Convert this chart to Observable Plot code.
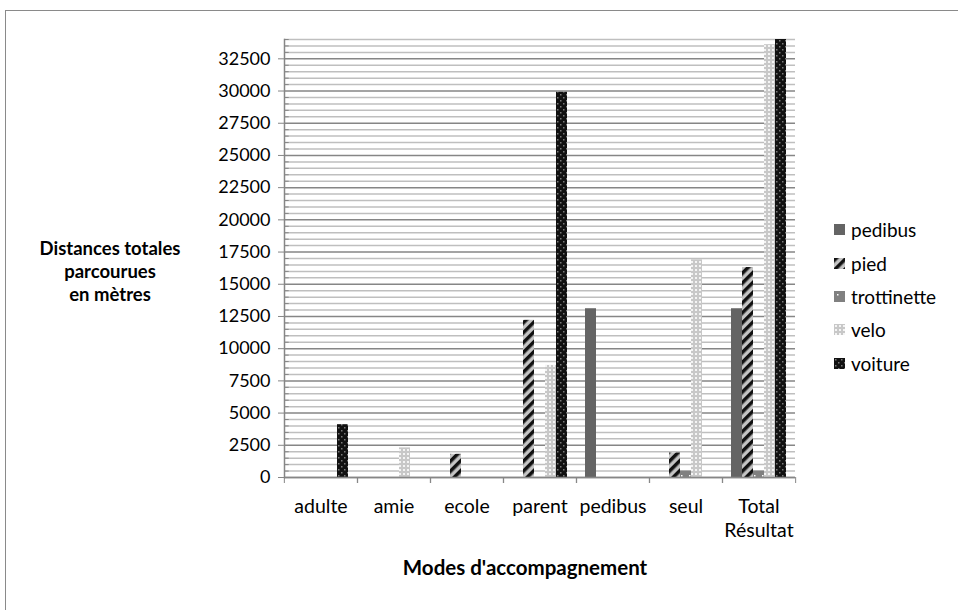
<!DOCTYPE html>
<html><head><meta charset="utf-8">
<script src="https://cdn.jsdelivr.net/npm/d3@7"></script>
<script src="https://cdn.jsdelivr.net/npm/@observablehq/plot@0.6"></script>
<style>
html,body{margin:0;padding:0;background:#fff;}
#wrap{position:relative;width:958px;height:610px;overflow:hidden;font-family:Lato,"Open Sans",sans-serif;}
#border{position:absolute;left:5px;top:10px;width:980px;height:640px;border:1.5px solid #8a8a8a;box-sizing:border-box;}
#chart{position:absolute;left:0;top:0;}
#ytitle{position:absolute;left:0px;width:220px;top:237px;text-align:center;font-weight:bold;font-size:18.5px;line-height:23px;color:#000;}
#xtitle{position:absolute;left:275px;width:500px;top:555px;text-align:center;font-weight:bold;font-size:20.5px;color:#000;}
#legend{position:absolute;left:834px;top:213px;}
.item{height:33.4px;display:flex;align-items:center;font-size:19px;}
.item svg{margin-right:6px;}
</style></head>
<body>
<svg width="0" height="0" style="position:absolute">
 <defs>
  <pattern id="p-pedibus" patternUnits="userSpaceOnUse" width="4" height="4">
   <rect width="4" height="4" fill="#646464"/>
  </pattern>
  <pattern id="p-pied" patternUnits="userSpaceOnUse" width="7" height="7" patternTransform="rotate(45)">
   <rect width="7" height="7" fill="#c4c4c4"/>
   <rect width="3.5" height="7" fill="#111"/>
  </pattern>
  <pattern id="p-trottinette" patternUnits="userSpaceOnUse" width="8" height="8">
   <rect width="8" height="8" fill="#808080"/>
   <rect x="3" y="3" width="1.5" height="1.5" fill="#ffffff"/>
  </pattern>
  <pattern id="p-velo" patternUnits="userSpaceOnUse" width="4" height="4">
   <rect width="4" height="4" fill="#c8c8c8"/>
   <rect x="1" y="1" width="2" height="2" fill="#f4f4f4"/>
  </pattern>
  <pattern id="p-voiture" patternUnits="userSpaceOnUse" width="6" height="6">
   <rect width="6" height="6" fill="#111111"/>
   <rect x="1" y="1" width="1.5" height="1.5" fill="#7a7a7a"/>
   <rect x="4" y="4" width="1.5" height="1.5" fill="#7a7a7a"/>
  </pattern>
 </defs>
</svg>
<div id="wrap">
 <div id="border"></div>
 <div id="chart"></div>
 <div id="ytitle">Distances totales<br>parcourues<br>en mètres</div>
 <div id="xtitle">Modes d'accompagnement</div>
 <div id="legend"></div>
</div>
<script>
const categories = ["adulte", "amie", "ecole", "parent", "pedibus", "seul", "Total Résultat"];
const series = ["pedibus", "pied", "trottinette", "velo", "voiture"];
const pedibus     = [0, 0, 0, 0, 13100, 0, 13100];
const pied        = [0, 0, 1800, 12200, 0, 1900, 16300];
const trottinette = [0, 0, 0, 0, 0, 500, 500];
const velo        = [0, 2300, 0, 8700, 0, 16900, 33600];
const voiture     = [4100, 0, 0, 29900, 0, 0, 34000];
const yTicks = [0, 2500, 5000, 7500, 10000, 12500, 15000, 17500, 20000, 22500, 25000, 27500, 30000, 32500];
const yMax = 34000;
const minorStep = 500;

const values = {pedibus, pied, trottinette, velo, voiture};
const data = [];
categories.forEach((c, i) => series.forEach(s => {
  if (values[s][i] > 0) data.push({cat: c, series: s, value: values[s][i]});
}));
const minor = d3.range(0, yMax + 1, minorStep).filter(v => v % 2500 !== 0);

const W = 958, H = 610, mL = 283, mR = 162, mT = 39, mB = 133;
const band = (W - mL - mR) / categories.length;

const chart = Plot.plot({
  width: W, height: H,
  marginLeft: mL, marginRight: mR, marginTop: mT, marginBottom: mB,
  style: {fontFamily: "Lato, 'Open Sans', sans-serif", fontSize: "18px", color: "#000", background: "transparent"},
  fx: {domain: categories, padding: 0, label: null},
  x: {domain: series, paddingInner: 0, paddingOuter: 0.75, axis: null},
  y: {domain: [0, yMax], label: null},
  color: {domain: series, range: series.map(s => `url(#p-${s})`)},
  marks: [
    Plot.ruleY(minor, {stroke: "#bfbfbf", strokeWidth: 1.5}),
    Plot.ruleY(yTicks, {stroke: "#868686", strokeWidth: 1.5}),
    Plot.barY(data, {fx: "cat", x: "series", y: "value", fill: "series"}),
    Plot.ruleY(minor, {facetAnchor: "left", stroke: "#868686", insetRight: band - 5}),
    Plot.frame({anchor: "left", facetAnchor: "left", stroke: "#868686", strokeWidth: 1.5}),
    Plot.ruleY([0], {stroke: "#868686", strokeWidth: 1.5}),
    Plot.axisY({ticks: yTicks, tickSize: 6, tickPadding: 8, tickFormat: d3.format("d"), stroke: "#868686", fill: "#000", label: null, fontSize: 18}),
    Plot.axisFx({anchor: "bottom", tickSize: 6, tickFormat: () => "", dx: -band / 2, stroke: "#868686", label: null}),
    Plot.axisFx({anchor: "bottom", tickSize: 6, tickFormat: () => "", dx: band / 2, stroke: "#868686", label: null}),
    Plot.axisFx({anchor: "bottom", tickSize: 0, tickPadding: 18, fill: "#000", label: null, fontSize: 19.5, lineHeight: 1.25,
      tickFormat: d => d === "Total Résultat" ? "Total\nRésultat" : d})
  ]
});
document.getElementById("chart").appendChild(chart);

const legend = document.getElementById("legend");
series.forEach(s => {
  const it = document.createElement("div");
  it.className = "item";
  it.innerHTML = `<svg width="11" height="11"><rect width="11" height="11" fill="url(#p-${s})"/></svg><span>${s}</span>`;
  legend.appendChild(it);
});
</script>
</body></html>
